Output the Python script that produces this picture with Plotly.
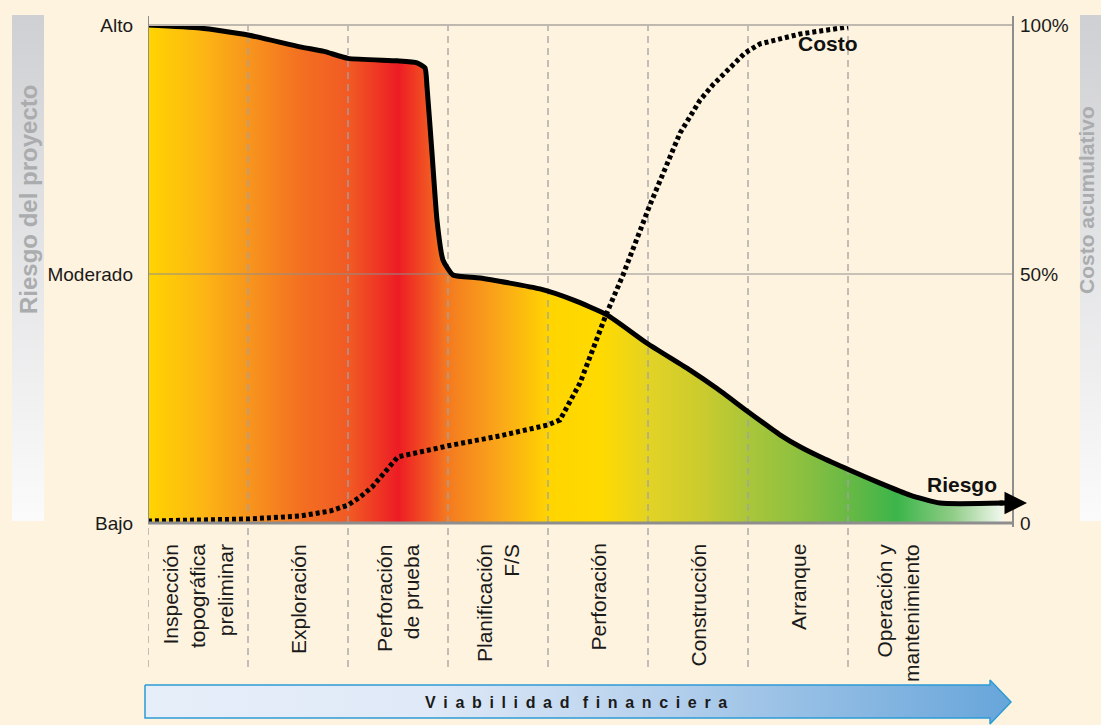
import plotly.graph_objects as go

W, H = 1101, 725
BG = "#FEF3DE"
FONT = "Liberation Sans, Arial, Helvetica, sans-serif"

# fases del proyecto, una columna por fase
fases = ["Inspección<br>topográfica<br>preliminar", "Exploración", "Perforación<br>de prueba",
         "Planificación<br>F/S", "Perforación", "Construcción", "Arranque",
         "Operación y<br>mantenimiento"]

# curva de riesgo (0 = bajo, 100 = alto), x en unidades de fase
riesgo_x = [0.00, 0.52, 1.00, 1.52, 1.76, 2.00, 2.49, 2.69, 2.77, 2.79, 2.84, 2.89, 2.95,
            3.05, 3.32, 3.92, 4.25, 4.59, 4.99, 5.42, 5.69, 5.99, 6.32, 6.52, 6.72, 7.02,
            7.32, 7.62, 7.92, 8.55]
riesgo_y = [100.0, 99.4, 98.0, 95.6, 94.7, 93.3, 92.8, 92.4, 91.4, 87.6, 74.3, 60.8, 52.8,
            49.8, 49.2, 47.0, 44.8, 41.8, 36.1, 30.7, 27.0, 22.5, 17.7, 15.3, 13.3, 10.6,
            8.0, 5.6, 4.0, 4.0]

# costo acumulativo (%)
costo_x = [0.00, 1.00, 1.52, 1.82, 2.00, 2.12, 2.24, 2.37, 2.50, 3.00, 3.52, 4.00, 4.12,
           4.32, 4.58, 4.75, 5.02, 5.32, 5.52, 5.65, 5.85, 5.97, 6.12, 6.52, 7.00]
costo_y = [0.4, 0.8, 1.4, 2.4, 3.6, 5.2, 7.2, 10.2, 13.3, 15.5, 17.5, 19.7, 20.7,
           28.1, 41.8, 49.8, 63.9, 78.3, 84.9, 88.0, 91.8, 94.4, 96.2, 98.2, 99.6]

niveles = [0, 50, 100]
niveles_riesgo = ["Bajo", "Moderado", "Alto"]
niveles_costo = ["0", "50%", "100%"]

# gradiente bajo la curva de riesgo
gradiente = [[0.00, "#FFD400"], [0.06, "#FDB813"], [0.12, "#F7941D"], [0.18, "#F36F21"],
             [0.235, "#F15A24"], [0.293, "#ED1C24"], [0.35, "#F47A20"], [0.41, "#FAA61A"],
             [0.47, "#FFD500"], [0.53, "#FFDA00"], [0.59, "#E1D226"], [0.65, "#CACB2E"],
             [0.705, "#A8C63A"], [0.765, "#8CC040"], [0.82, "#68B945"], [0.876, "#3CB54A"],
             [0.94, "#8ECC85"], [1.00, "#F2F8EF"]]

X_END = 8.65  # posición del eje derecho


def X(px):
    return px / W


def Y(py):
    return 1 - py / H


def espaciar(palabra):
    return "\u00a0\u2009".join(palabra)


fig = go.Figure()

fig.add_trace(go.Scatter(
    x=riesgo_x, y=riesgo_y, mode="lines",
    line=dict(width=0, shape="spline", smoothing=0.5),
    fill="tozeroy",
    fillgradient=dict(type="horizontal", colorscale=gradiente, start=0, stop=riesgo_x[-1]),
    hoverinfo="skip"))

# divisiones entre fases
div_x, div_y = [], []
for i in range(len(fases)):
    div_x += [i, i, None]
    div_y += [0, 100, None]
fig.add_trace(go.Scatter(x=div_x, y=div_y, mode="lines",
                         line=dict(color="#A2A2A2", width=1.3, dash="7px,5px"),
                         hoverinfo="skip"))

fig.add_trace(go.Scatter(x=[0, X_END], y=[50, 50], mode="lines",
                         line=dict(color="#8E8E8E", width=1), hoverinfo="skip"))

fig.add_trace(go.Scatter(x=costo_x, y=costo_y, mode="lines", yaxis="y2",
                         line=dict(color="black", width=5, dash="4px,3px"),
                         hoverinfo="skip"))

fig.add_trace(go.Scatter(x=riesgo_x, y=riesgo_y, mode="lines",
                         line=dict(color="black", width=5, shape="spline", smoothing=0.5),
                         hoverinfo="skip"))

# decoraciones en coordenadas de página
banda = dict(type="vertical", colorscale=[[0, "#CFD0D3"], [1, "#FBFBFB"]], start=15, stop=521)
fig.add_trace(go.Scatter(
    x=[12, 44, 44, 12, 12], y=[15, 15, 521, 521, 15], xaxis="x3", yaxis="y3",
    mode="lines", line=dict(width=0), fill="toself", fillgradient=banda, hoverinfo="skip"))
fig.add_trace(go.Scatter(
    x=[1080, 1110, 1110, 1080, 1080], y=[15, 15, 521, 521, 15], xaxis="x3", yaxis="y3",
    mode="lines", line=dict(width=0), fill="toself", fillgradient=banda, hoverinfo="skip"))
fig.add_trace(go.Scatter(
    x=[145, 990, 990, 1011, 990, 990, 145, 145],
    y=[685, 685, 680, 702, 724, 718, 718, 685], xaxis="x3", yaxis="y3",
    mode="lines", line=dict(width=1.5, color="#2C9BD6"), fill="toself",
    fillgradient=dict(type="horizontal",
                      colorscale=[[0, "#E6EEF9"], [0.33, "#DFE9F7"], [0.6, "#B5D0EC"],
                                  [1, "#67A5DA"]],
                      start=145, stop=1011),
    hoverinfo="skip"))

shapes = []
for i in range(len(fases)):
    shapes.append(dict(type="line", xref="x", yref="paper", x0=i, x1=i, y0=Y(528), y1=Y(668),
                       line=dict(color="#A2A2A2", width=1.3, dash="7px,5px")))
shapes += [
    dict(type="line", xref="x", yref="paper", x0=0, x1=X_END, y0=Y(25), y1=Y(25),
         line=dict(color="#BEB8AE", width=2)),
    dict(type="line", xref="x", yref="paper", x0=0, x1=X_END, y0=Y(523), y1=Y(523),
         line=dict(color="#8E8E8E", width=3)),
    dict(type="line", xref="x", yref="paper", x0=0, x1=0, y0=Y(16), y1=Y(523),
         line=dict(color="#8E8E8E", width=2)),
    dict(type="line", xref="x", yref="paper", x0=X_END, x1=X_END, y0=Y(16), y1=Y(527),
         line=dict(color="#8E8E8E", width=2)),
]

annotations = []
for i, f in enumerate(fases):
    annotations.append(dict(x=i + 0.5, xref="x", y=Y(542), yref="paper", text=f,
                            showarrow=False, textangle=-90, xanchor="center",
                            yanchor="top", align="right",
                            font=dict(size=21, color="#1A1A1A")))

annotations += [
    dict(x=riesgo_x[-1] + 0.24, y=riesgo_y[-1], ax=riesgo_x[-1] - 0.05, ay=riesgo_y[-1],
         xref="x", yref="y", axref="x", ayref="y", text="", showarrow=True,
         arrowhead=2, arrowwidth=5, arrowsize=0.9, arrowcolor="black", standoff=0),
    dict(x=6.8, y=96.2, xref="x", yref="y", text="<b>Costo</b>", showarrow=False,
         xanchor="center", yanchor="middle", font=dict(size=21, color="#111")),
    dict(x=8.14, y=7.8, xref="x", yref="y", text="<b>Riesgo</b>", showarrow=False,
         xanchor="center", yanchor="middle", font=dict(size=21, color="#111")),
    dict(x=X(28), y=Y(200), xref="paper", yref="paper", text="<b>Riesgo del proyecto</b>",
         showarrow=False, textangle=-90, xanchor="center", yanchor="middle",
         font=dict(size=24, color="#ABACAE")),
    dict(x=X(1086), y=Y(200), xref="paper", yref="paper", text="<b>Costo acumulativo</b>",
         showarrow=False, textangle=-90, xanchor="center", yanchor="middle",
         font=dict(size=21, color="#ABACAE")),
    dict(x=X(576), y=Y(702), xref="paper", yref="paper",
         text="<b>" + espaciar("Viabilidad") + "\u00a0\u00a0\u00a0" + espaciar("financiera") + "</b>",
         showarrow=False, xanchor="center", yanchor="middle",
         font=dict(size=16, color="#1A1A1A")),
]

fig.update_layout(
    width=W, height=H,
    margin=dict(l=0, r=0, t=0, b=0, autoexpand=False),
    paper_bgcolor=BG, plot_bgcolor="rgba(0,0,0,0)",
    showlegend=False,
    font=dict(family=FONT, size=19, color="#1A1A1A"),
    xaxis=dict(domain=[X(148), X(1030)], range=[0, 8.82], visible=False, fixedrange=True),
    yaxis=dict(domain=[Y(523), Y(25)], range=[0, 100], tickvals=niveles,
               ticktext=niveles_riesgo, showgrid=False, zeroline=False, showline=False,
               ticks="", ticklabelstandoff=14, fixedrange=True),
    yaxis2=dict(overlaying="y", anchor="free", position=X(1013), side="right",
                range=[0, 100], tickvals=niveles, ticktext=niveles_costo, showgrid=False,
                zeroline=False, showline=False, ticks="", ticklabelstandoff=6,
                fixedrange=True),
    xaxis3=dict(domain=[0, 1], range=[0, W], visible=False, anchor="y3", fixedrange=True),
    yaxis3=dict(domain=[0, 1], range=[H, 0], visible=False, anchor="x3", fixedrange=True),
    shapes=shapes,
    annotations=annotations,
)

fig.write_html("out.html", config={"displayModeBar": False},
               post_script="document.body.style.margin='0';")
